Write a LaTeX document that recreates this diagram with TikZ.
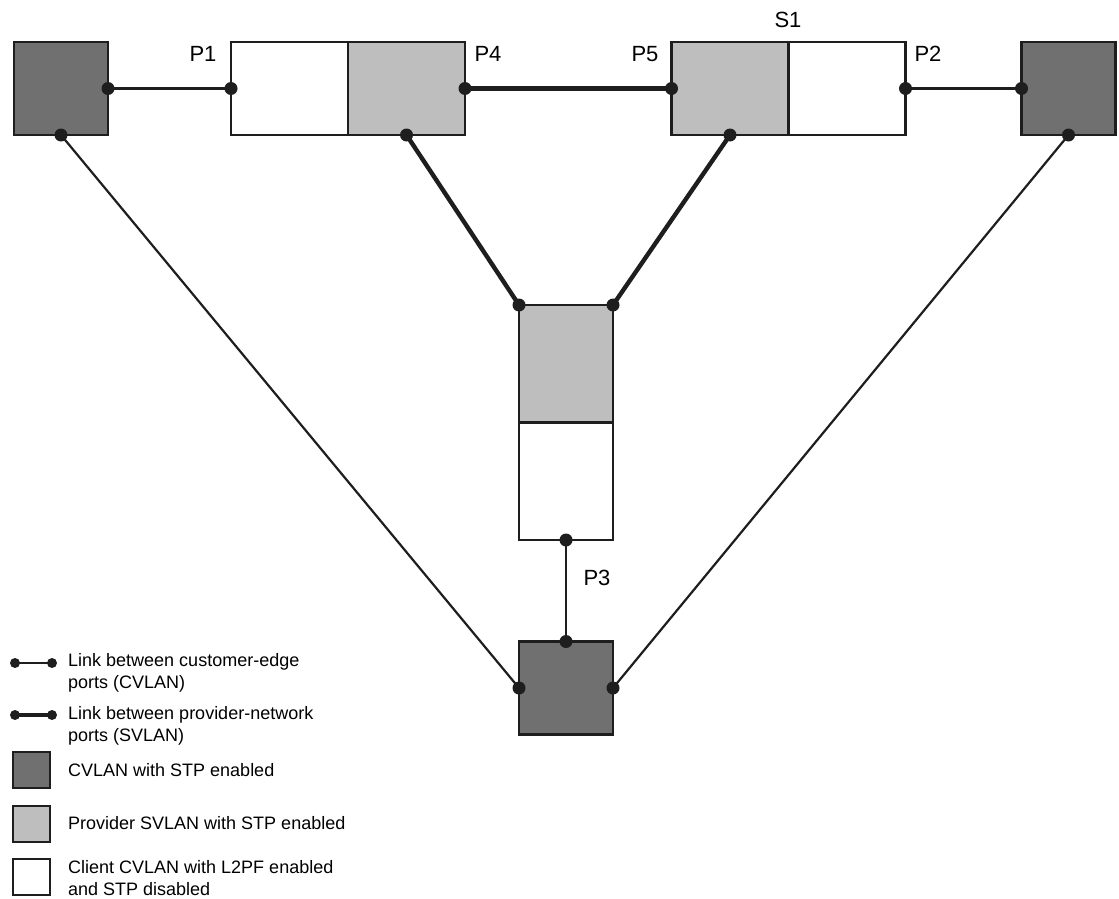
\documentclass[tikz,border=0pt]{standalone}
\usepackage{fontspec}
\setmainfont{Liberation Sans}
\definecolor{dkfill}{RGB}{112,112,112}
\definecolor{ltfill}{RGB}{190,190,190}
\definecolor{edge}{RGB}{30,30,30}
\tikzset{
  box/.style={draw=edge, line width=2.2pt, inner sep=0pt, outer sep=0pt},
  cvbox/.style={box, fill=dkfill, minimum width=94, minimum height=93},
  svbox/.style={box, fill=ltfill},
  clbox/.style={box, fill=white},
  hhalf/.style={minimum width=117, minimum height=93},
  vhalf/.style={minimum width=94, minimum height=117.5},
  cvlink/.style={draw=edge, line width=2.2pt},
  svlink/.style={draw=edge, line width=4.4pt},
  portlabel/.style={inner sep=0pt, font=\fontsize{22}{26}\selectfont},
  legtext/.style={inner sep=0pt, anchor=west, align=left, font=\fontsize{18}{21.5}\selectfont},
  legbox/.style={box, line width=1.8pt, minimum width=37, minimum height=36},
}
\begin{document}
\begin{tikzpicture}[x=1pt,y=-1pt]
\useasboundingbox (0,0) rectangle (1119,899);
% edge devices (CVLAN with STP)
\node[cvbox] (LD) at (61,88.5) {};
\node[cvbox] (RD) at (1068.5,88.5) {};
\node[cvbox] (BD) at (566,688) {};
% left switch
\node[clbox,hhalf] (A1) at (289.5,88.5) {};
\node[svbox,hhalf] (A2) at (406.5,88.5) {};
% right switch S1
\node[svbox,hhalf] (B1) at (730,88.5) {};
\node[clbox,hhalf] (B2) at (847,88.5) {};
% middle switch
\node[svbox,vhalf] (M1) at (566,363.75) {};
\node[clbox,vhalf] (M2) at (566,481.25) {};
% labels
\node[portlabel] (lP1) at (203,54) {P1};
\node[portlabel] (lP4) at (488,54) {P4};
\node[portlabel] (lP5) at (645,54) {P5};
\node[portlabel] (lS1) at (788,20) {S1};
\node[portlabel] (lP2) at (928,54) {P2};
\node[portlabel] (lP3) at (597,578) {P3};
% links
\draw[cvlink] (LD.east) -- (A1.west);
\draw[svlink] (A2.east) -- (B1.west);
\draw[cvlink] (B2.east) -- (RD.west);
\draw[svlink] (A2.south) -- (M1.north west);
\draw[svlink] (B1.south) -- (M1.north east);
\draw[cvlink] (LD.south) -- (BD.west);
\draw[cvlink] (RD.south) -- (BD.east);
\draw[cvlink] (M2.south) -- (BD.north);
\foreach \p in {LD.east,A1.west,A2.east,B1.west,B2.east,RD.west,A2.south,B1.south,M1.north west,M1.north east,LD.south,RD.south,BD.west,BD.east,M2.south,BD.north}
  \fill[edge] (\p) circle (6.5);
% legend
\coordinate (l1a) at (15,663); \coordinate (l1b) at (52,663);
\coordinate (l2a) at (15,715); \coordinate (l2b) at (52,715);
\draw[cvlink] (l1a) -- (l1b);
\draw[svlink, line width=3.6pt] (l2a) -- (l2b);
\foreach \p in {l1a,l1b,l2a,l2b} \fill[edge] (\p) circle (5);
\node[legtext] (t1) at (68,673) {Link between customer-edge\\ports (CVLAN)};
\node[legtext] (t2) at (68,726) {Link between provider-network\\ports (SVLAN)};
\node[legbox, fill=dkfill] (k1) at (31.5,770) {};
\node[legtext] (t3) at (68,770) {CVLAN with STP enabled};
\node[legbox, fill=ltfill] (k2) at (31.5,824) {};
\node[legtext] (t4) at (68,823) {Provider SVLAN with STP enabled};
\node[legbox, fill=white] (k3) at (31.5,877) {};
\node[legtext] (t5) at (68,878) {Client CVLAN with L2PF enabled\\and STP disabled};
\end{tikzpicture}
\end{document}
